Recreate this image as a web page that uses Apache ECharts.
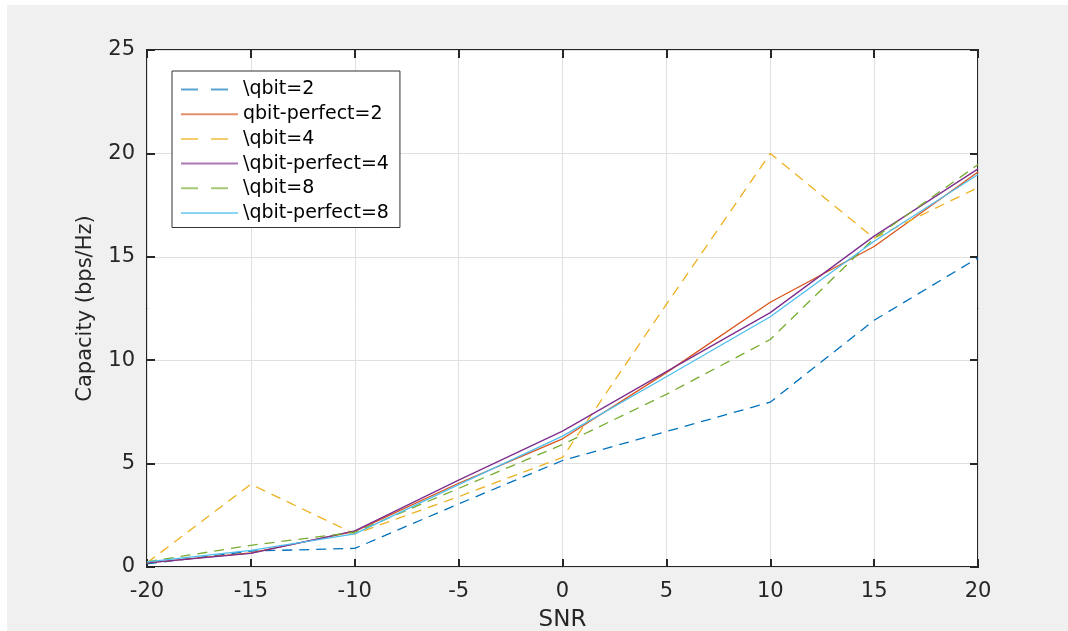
<!DOCTYPE html>
<html>
<head>
<meta charset="utf-8">
<script src="https://cdn.jsdelivr.net/npm/echarts@6/dist/echarts.min.js"></script>
<style>
  html, body { margin: 0; padding: 0; background: #fff; }
  #chart { width: 1068px; height: 631px; }
</style>
</head>
<body>
<div id="chart"></div>
<script>
// SNR sweep and capacity readings (bps/Hz) per quantisation setting.
const snr = [-20, -15, -10, -5, 0, 5, 10, 15, 20];
const qbit2 = [0.15, 0.77, 0.9, 3.05, 5.15, 6.55, 7.97, 11.93, 14.95];
const perfect2 = [0.2, 0.68, 1.72, 4.05, 6.2, 9.4, 12.8, 15.5, 19.1];
const qbit4 = [0.2, 4.0, 1.6, 3.4, 5.3, 12.7, 20.0, 15.9, 18.35];
const perfect4 = [0.2, 0.66, 1.75, 4.2, 6.57, 9.45, 12.3, 16.0, 19.25];
const qbit8 = [0.25, 1.05, 1.68, 3.8, 5.92, 8.35, 11.0, 15.9, 19.46];
const perfect8 = [0.25, 0.8, 1.6, 3.98, 6.33, 9.2, 12.1, 15.75, 18.98];

const seriesNames = ["\\qbit=2", "qbit-perfect=2", "\\qbit=4", "\\qbit-perfect=4", "\\qbit=8", "\\qbit-perfect=8"];
const seriesValues = [qbit2, perfect2, qbit4, perfect4, qbit8, perfect8];
const seriesColors = ["#0072BD", "#D95319", "#EDB120", "#7E2F8E", "#77AC30", "#4DBEEE"];
const seriesDashed = [true, false, true, false, true, false];

const FONT = "DejaVu Sans";
const INK = "#262626";

const chart = echarts.init(document.getElementById("chart"), null, { renderer: "canvas" });

const series = seriesValues.map((vals, i) => ({
  name: seriesNames[i],
  type: "line",
  data: vals.map((v, j) => [snr[j], v]),
  symbol: "none",
  animation: false,
  lineStyle: {
    color: seriesColors[i],
    width: 1.3,
    type: seriesDashed[i] ? [10, 7] : "solid"
  },
  itemStyle: { color: seriesColors[i] }
}));

const tickLabel = { color: INK, fontFamily: FONT, fontSize: 21 };
const innerTick = { show: true, inside: true, length: 8, lineStyle: { color: INK, width: 2 } };
const noLine = { show: false, onZero: false };

chart.setOption({
  backgroundColor: "#f0f0f0",
  animation: false,
  graphic: [
    { type: "rect", left: 0, top: 0, shape: { width: 1068, height: 5 }, style: { fill: "#fff" }, silent: true },
    { type: "rect", left: 0, top: 0, shape: { width: 7, height: 631 }, style: { fill: "#fff" }, silent: true }
  ],
  grid: {
    left: 147, top: 50, right: 90, bottom: 64,
    containLabel: false, outerBoundsMode: "none",
    show: true, backgroundColor: "#fff", borderColor: INK, borderWidth: 2
  },
  legend: {
    orient: "vertical",
    left: 172, top: 71,
    padding: [9, 11, 5, 8],
    backgroundColor: "#fff",
    borderColor: "#333",
    borderWidth: 1,
    itemWidth: 57,
    itemHeight: 14,
    itemGap: 5.7,
    textStyle: { color: "#000", fontFamily: FONT, fontSize: 19, lineHeight: 19 },
    data: seriesNames.map((n, i) => ({
      name: n,
      itemStyle: { opacity: 0 },
      lineStyle: { color: seriesColors[i], width: 2, opacity: 0.65, type: seriesDashed[i] ? [17, 13] : "solid" }
    }))
  },
  xAxis: [{
    type: "value", min: -20, max: 20, interval: 5,
    name: "SNR", nameLocation: "middle", nameGap: 42,
    nameTextStyle: { color: INK, fontFamily: FONT, fontSize: 23 },
    axisLine: noLine,
    axisTick: innerTick,
    axisLabel: Object.assign({ margin: 14 }, tickLabel),
    splitLine: { show: true, lineStyle: { color: "#e0e0e0", width: 1 } }
  }, {
    type: "value", min: -20, max: 20, interval: 5, position: "top",
    axisLine: noLine,
    axisTick: innerTick,
    axisLabel: { show: false }, splitLine: { show: false }
  }],
  yAxis: [{
    type: "value", min: 0, max: 25, interval: 5,
    name: "Capacity (bps/Hz)", nameLocation: "middle", nameGap: 51, nameRotate: 90,
    nameTextStyle: { color: INK, fontFamily: FONT, fontSize: 21 },
    axisLine: noLine,
    axisTick: innerTick,
    axisLabel: Object.assign({ margin: 12 }, tickLabel),
    splitLine: { show: true, lineStyle: { color: "#e0e0e0", width: 1 } }
  }, {
    type: "value", min: 0, max: 25, interval: 5, position: "right",
    axisLine: noLine,
    axisTick: innerTick,
    axisLabel: { show: false }, splitLine: { show: false }
  }],
  series: series
});
</script>
</body>
</html>
